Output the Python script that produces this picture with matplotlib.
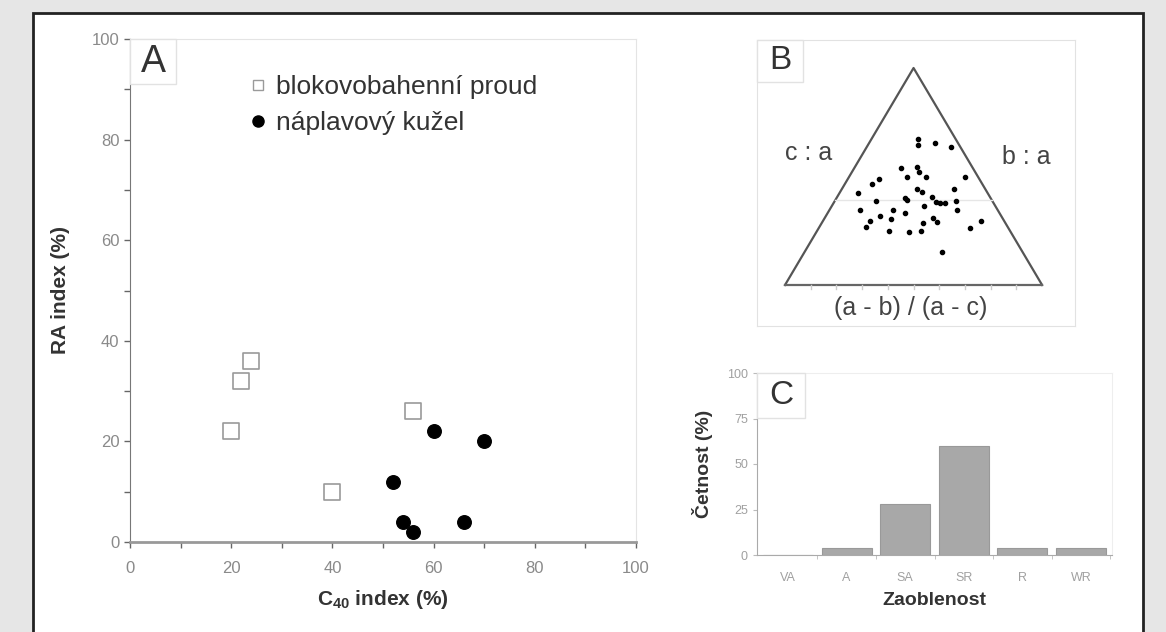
import numpy as np
import matplotlib
matplotlib.use('Agg')
import matplotlib.pyplot as plt
from matplotlib import font_manager
from matplotlib.patches import Rectangle
from matplotlib.lines import Line2D

# --- data ---
# A: blokovobahenni proud (squares), naplavovy kuzel (circles)
blok_c40 = [20, 22, 24, 40, 56]
blok_ra = [22, 32, 36, 10, 26]
napl_c40 = [52, 54, 56, 60, 66, 70]
napl_ra = [12, 4, 2, 22, 4, 20]

# B: points in the triangle, u along base (0..1), v = height (apex = 1)
tri_u = [0.518, 0.518, 0.584, 0.646, 0.451, 0.514, 0.521, 0.475, 0.549, 0.700,
         0.366, 0.339, 0.284, 0.514, 0.533, 0.658, 0.354, 0.467, 0.475, 0.572,
         0.588, 0.603, 0.623, 0.665, 0.292, 0.420, 0.467, 0.541, 0.669, 0.370,
         0.412, 0.331, 0.315, 0.405, 0.482, 0.529, 0.537, 0.576, 0.591, 0.720,
         0.763, 0.611]
tri_v = [0.673, 0.645, 0.654, 0.636, 0.539, 0.544, 0.521, 0.498, 0.498, 0.498,
         0.488, 0.465, 0.424, 0.442, 0.429, 0.442, 0.387, 0.401, 0.392, 0.406,
         0.382, 0.378, 0.378, 0.387, 0.346, 0.346, 0.332, 0.364, 0.346, 0.318,
         0.304, 0.295, 0.267, 0.249, 0.244, 0.249, 0.286, 0.309, 0.290, 0.263,
         0.295, 0.152]

# C: zaoblenost
kategorie = ['VA', 'A', 'SA', 'SR', 'R', 'WR']
cetnost = [0, 4, 28, 60, 4, 4]


def najdi_font(jmena):
    for j in jmena:
        try:
            font_manager.findfont(j, fallback_to_default=False)
            return j
        except Exception:
            pass
    return 'DejaVu Sans'


hlavni = najdi_font(['Liberation Sans', 'Arial'])
uzky = najdi_font(['Liberation Sans Narrow', 'Liberation Sans'])
plt.rcParams['font.family'] = hlavni
plt.rcParams['mathtext.fontset'] = 'custom'
plt.rcParams['mathtext.rm'] = hlavni
plt.rcParams['mathtext.bf'] = hlavni + ':bold'

W, H = 1166, 632
fig = plt.figure(figsize=(W / 100, H / 100), dpi=100)
fig.patch.set_facecolor('#e6e6e6')
fig.add_artist(Rectangle((33 / W, -0.01), (1143 - 33) / W, 1 - 13 / H + 0.01,
                         transform=fig.transFigure, facecolor='white',
                         edgecolor='#222222', lw=2, zorder=0))


def osa(x0, y0, x1, y1):
    # pixel box -> figure fraction
    return fig.add_axes([x0 / W, 1 - y1 / H, (x1 - x0) / W, (y1 - y0) / H])


def stitek(ax, txt, w, h, size):
    ax.add_patch(Rectangle((0, 1 - h), w, h, transform=ax.transAxes,
                           facecolor='white', edgecolor='#e2e2e2', lw=1,
                           zorder=5, clip_on=False))
    ax.text(w / 2, 1 - h / 2, txt, transform=ax.transAxes, ha='center',
            va='center', fontsize=size, color='#333333', zorder=6)


# ---------------- A ----------------
axA = osa(130, 39, 636, 542)
axA.scatter(blok_c40, blok_ra, marker='s', s=120, facecolor='white',
            edgecolor='#9a9a9a', lw=1.2, zorder=3)
axA.scatter(napl_c40, napl_ra, marker='o', s=95, facecolor='black',
            edgecolor='black', zorder=3)
axA.set_xlim(0, 100)
axA.set_ylim(0, 100)
axA.set_xticks(range(0, 101, 20))
axA.set_yticks(range(0, 101, 20))
axA.set_xticks(range(10, 100, 20), minor=True)
axA.set_yticks(range(10, 100, 20), minor=True)
axA.tick_params(which='both', direction='out', colors='#666666', labelcolor='#8a8a8a',
                labelsize=12, length=4, width=1)
axA.tick_params(axis='x', pad=10)
for t in axA.get_xticklabels() + axA.get_yticklabels():
    t.set_fontfamily(uzky)
for s in ['top', 'right']:
    axA.spines[s].set_color('#e4e4e4')
axA.spines['left'].set_color('#777777')
axA.spines['bottom'].set_color('#999999')
axA.spines['bottom'].set_linewidth(2)
axA.set_ylabel('RA index (%)', fontsize=15, fontweight='bold', color='#333333',
               labelpad=16)
axA.set_xlabel(r'C$_{\mathbf{40}}$ index (%)', fontsize=15, fontweight='bold',
               color='#333333', labelpad=8)
stitek(axA, 'A', 46 / 506, 45 / 503, 27)
h = [Line2D([], [], ls='none', marker='s', ms=7, mfc='white', mec='#9a9a9a'),
     Line2D([], [], ls='none', marker='o', ms=8, mfc='black', mec='black')]
axA.legend(h, ['blokovobahenní proud', 'náplavový kužel'], loc='upper left',
           bbox_to_anchor=(0.19, 0.975), frameon=False, fontsize=19,
           labelspacing=0.45, handlelength=0.6, handletextpad=0.4,
           labelcolor='#333333')

# ---------------- B ----------------
axB = osa(757, 40, 1075, 326)
axB.set_xlim(-0.109, 1.128)
axB.set_ylim(-0.189, 1.129)
axB.set_xticks([])
axB.set_yticks([])
for s in axB.spines.values():
    s.set_color('#e2e2e2')
axB.plot([0, 0.5, 1], [0, 1, 0], color='#555555', lw=1.6)
axB.plot([0, 1], [0, 0], color='#666666', lw=1.6)
axB.plot([0.195, 0.805], [0.39, 0.39], color='#e6e6e6', lw=1)
for u in np.linspace(0.1, 0.9, 9):
    axB.plot([u, u], [0, -0.02], color='#cccccc', lw=1)
axB.scatter(tri_u, tri_v, s=9, color='black', zorder=3)
axB.text(0.093, 0.61, 'c : a', fontsize=18, ha='center', va='center', color='#444444')
axB.text(0.94, 0.59, 'b : a', fontsize=18, ha='center', va='center', color='#444444')
axB.text(0.49, -0.108, '(a - b) / (a - c)', fontsize=18, ha='center', va='center',
         color='#444444')
stitek(axB, 'B', 46 / 318, 42 / 286, 24)

# ---------------- C ----------------
axC = osa(757, 373, 1112, 555)
x = np.arange(len(kategorie))
axC.bar(x, cetnost, width=0.85, color='#a8a8a8', edgecolor='#999999', lw=0.8)
axC.set_xlim(-0.53, 5.53)
axC.set_ylim(0, 100)
axC.set_yticks([0, 25, 50, 75, 100])
axC.set_xticks(x)
axC.set_xticklabels(kategorie)
axC.set_xticks(np.arange(0.5, 6, 1), minor=True)
axC.tick_params(axis='x', which='major', length=0, pad=12)
axC.tick_params(axis='x', which='minor', length=3, color='#bbbbbb')
axC.tick_params(axis='y', length=3, color='#bbbbbb')
axC.tick_params(which='both', labelsize=9, labelcolor='#a0a0a0')
for t in axC.get_xticklabels() + axC.get_yticklabels():
    t.set_fontfamily(uzky)
for s in ['top', 'right']:
    axC.spines[s].set_color('#eeeeee')
for s in ['left', 'bottom']:
    axC.spines[s].set_color('#aaaaaa')
axC.set_ylabel('Četnost (%)', fontsize=14, fontweight='bold', color='#333333',
               labelpad=10)
axC.set_xlabel('Zaoblenost', fontsize=14, fontweight='bold', color='#333333',
               labelpad=6)
stitek(axC, 'C', 48 / 355, 45 / 182, 24)

fig.savefig('out.png', dpi=100, facecolor=fig.get_facecolor())
